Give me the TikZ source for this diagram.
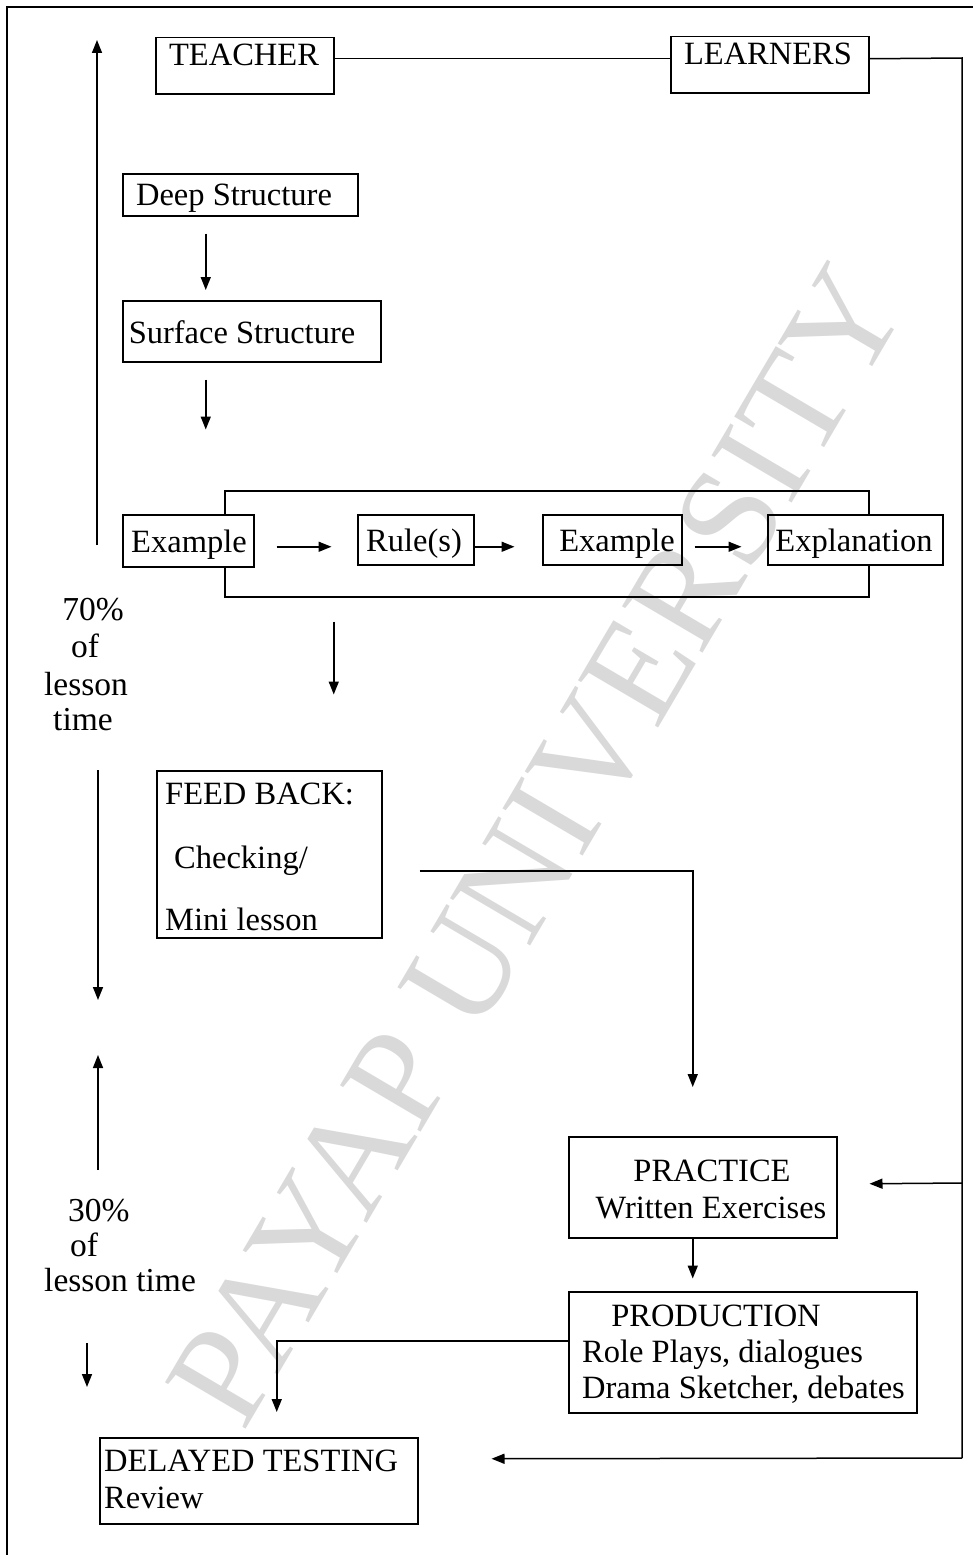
\documentclass[tikz,border=0pt]{standalone}
\usepackage{fontspec}
\setmainfont{Liberation Serif}
\usetikzlibrary{arrows.meta}
\begin{document}
\begin{tikzpicture}[x=1pt,y=-1pt,
  box/.style={draw, line width=1.5pt, inner sep=0pt, anchor=north west, fill=white},
  lbl/.style={font=\fontsize{32.5}{36}\selectfont, inner sep=0pt, anchor=base},
  lbll/.style={lbl, anchor=base west},
  side/.style={font=\fontsize{33.5}{38}\selectfont, inner sep=0pt, anchor=base},
  sidel/.style={side, anchor=base west},
  arr/.style={line width=1.5pt, -{Triangle[length=13pt,width=10pt]}},
  conn/.style={line width=1.5pt}]
\useasboundingbox (0,0) rectangle (973,1555);
% page frame
\draw[conn] (7,1555) -- (7,7) -- (973,7);

% boxes
\node[box, minimum width=178pt, minimum height=56pt] (teacher) at (155,37) {};
\node[box, minimum width=198pt, minimum height=56pt] (learners) at (670,36) {};
\node[box, minimum width=235pt, minimum height=42pt] (deep) at (122,173) {};
\node[box, minimum width=258pt, minimum height=61pt] (surface) at (122,300) {};
\node[box, fill=none, minimum width=644pt, minimum height=106pt] (group) at (224,490) {};
\node[box, minimum width=131pt, minimum height=52pt] (ex1) at (122,514) {};
\node[box, minimum width=116pt, minimum height=50pt] (rules) at (357,514) {};
\node[box, minimum width=139pt, minimum height=50pt] (ex2) at (542,514) {};
\node[box, minimum width=175pt, minimum height=50pt] (expl) at (767,514) {};
\node[box, minimum width=225pt, minimum height=167pt] (feedback) at (156,770) {};
\node[box, minimum width=268pt, minimum height=101pt] (practice) at (568,1136) {};
\node[box, minimum width=348pt, minimum height=121pt] (production) at (568,1291) {};
\node[box, minimum width=318pt, minimum height=86pt] (delayed) at (99,1437) {};

% texts
\node[lbl] (tteacher) at (244,66) {TEACHER};
\node[lbl] (tlearners) at (768,65) {LEARNERS};
\node[lbl] (tdeep) at (234,205) {Deep Structure};
\node[lbl] (tsurface) at (242,343) {Surface Structure};
\node[lbl] (tex1) at (189,552) {Example};
\node[lbl] (trules) at (414,551) {Rule(s)};
\node[lbl] (tex2) at (617,551) {Example};
\node[lbl] (texpl) at (854,551) {Explanation};
\node[lbll] (tfb1) at (165,804) {FEED BACK:};
\node[lbll] (tfb2) at (174,868) {Checking/};
\node[lbll] (tfb3) at (165,930) {Mini lesson};
\node[lbl] (tpr1) at (712,1181) {PRACTICE};
\node[lbl] (tpr2) at (711,1218) {Written Exercises};
\node[lbl] (tpd1) at (716,1326) {PRODUCTION};
\node[lbll] (tpd2) at (582,1362) {Role Plays, dialogues};
\node[lbll] (tpd3) at (582,1398) {Drama Sketcher, debates};
\node[lbll] (tdt1) at (104,1471) {DELAYED TESTING};
\node[lbll] (tdt2) at (104,1508) {Review};

\node[side] (s70a) at (93,620) {70\%};
\node[side] (s70b) at (85,657) {of};
\node[side] (s70c) at (86,695) {lesson};
\node[side] (s70d) at (83,730) {time};
\node[sidel] (s30a) at (68,1221) {30\%};
\node[sidel] (s30b) at (70,1256) {of};
\node[sidel] (s30c) at (44,1291) {lesson time};

% connectors
\coordinate (rtop) at (962,58);
\coordinate (rmid) at (962,1183);
\coordinate (rbot) at (962,1458);
\draw[conn] ([yshift=7pt]teacher.east) -- ([yshift=7pt]teacher.east -| learners.west);
\draw[conn] ([yshift=6pt]learners.east) -- (rtop) -- (rbot);
\draw[arr] (rmid) -- ([shift={(32pt,3.5pt)}]practice.east);
\draw[arr] (rbot) -- ([shift={(73pt,22pt)}]delayed.east);

\draw[arr] ([shift={(-34.5pt,-17pt)}]deep.south) -- ([shift={(-46pt,10pt)}]surface.north);
\draw[arr] ([shift={(-46pt,-17pt)}]surface.south) -- ([shift={(-46pt,-67pt)}]surface.south);
\draw[arr] ([shift={(22pt,-6pt)}]ex1.east) -- ++(55pt,0pt);
\draw[arr] ([shift={(0pt,-7pt)}]rules.east) -- ++(40pt,0pt);
\draw[arr] ([shift={(12pt,-7pt)}]ex2.east) -- ++(47pt,0pt);
\draw[arr] ([shift={(-213pt,-24pt)}]group.south) -- ++(0pt,-73pt);
\draw[arr] ([shift={(37pt,-16.5pt)}]feedback.east) -| ([shift={(-10pt,49pt)}]practice.north);
\draw[arr] ([xshift=-10pt]practice.south) -- ++(0pt,-40pt);
\draw[arr] ([yshift=11.5pt]production.west) -| ([shift={(18pt,25pt)}]delayed.north);

% time arrows
\coordinate (u1s) at (97,545);
\coordinate (u1e) at (97,40);
\coordinate (d1s) at (98,770);
\coordinate (d1e) at (98,1000);
\coordinate (u2s) at (98,1170);
\coordinate (u2e) at (98,1055);
\coordinate (d2s) at (87,1343);
\coordinate (d2e) at (87,1387);
\draw[arr] (u1s) -- (u1e);
\draw[arr] (d1s) -- (d1e);
\draw[arr] (u2s) -- (u2e);
\draw[arr] (d2s) -- (d2e);

% watermark
\node[rotate=59.5, text=black, text opacity=0.15, font=\fontsize{142}{142}\selectfont, inner sep=0pt] (wm) at (537,845) {PAYAP UNIVERSITY};
\end{tikzpicture}
\end{document}
